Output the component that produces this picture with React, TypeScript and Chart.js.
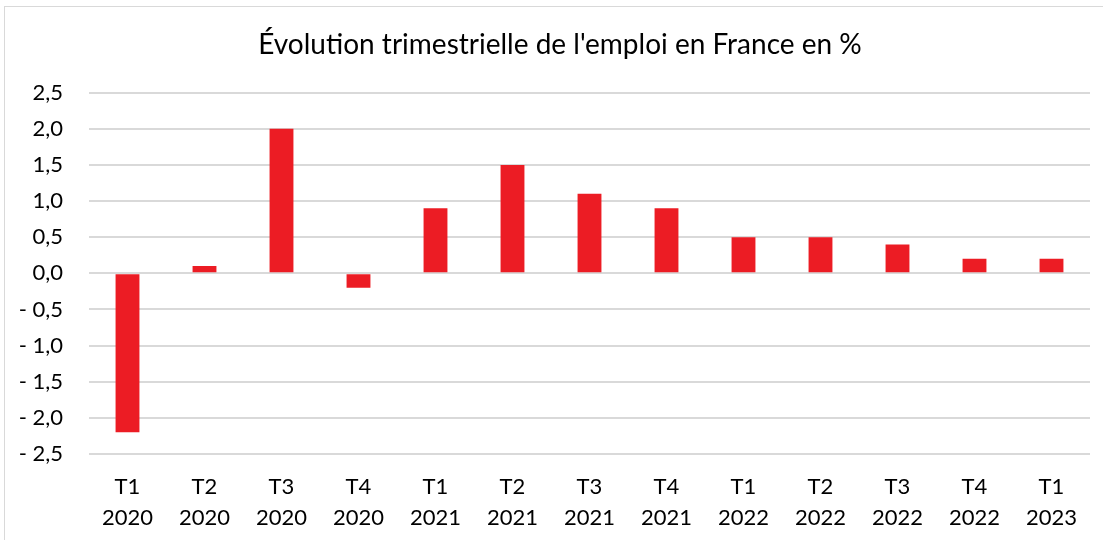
import React, { useEffect, useRef } from "react";
import { Chart, registerables } from "chart.js";

Chart.register(...registerables);

const quarters = ["T1", "T2", "T3", "T4", "T1", "T2", "T3", "T4", "T1", "T2", "T3", "T4", "T1"];
const years = ["2020", "2020", "2020", "2020", "2021", "2021", "2021", "2021", "2022", "2022", "2022", "2022", "2023"];
const emploi = [-2.2, 0.1, 2.0, -0.2, 0.9, 1.5, 1.1, 0.9, 0.5, 0.5, 0.4, 0.2, 0.2];
const titleText = "Évolution trimestrielle de l'emploi en France en %";
const yMin = -2.5;
const yMax = 2.5;
const yStep = 0.5;

const FONT = "Lato, 'Open Sans', sans-serif";

const titleShift = {
  id: "titleShift",
  afterLayout(c: any) {
    const t = c.titleBlock;
    if (t) {
      t.left = 30;
      t.width = t.right - t.left;
    }
  },
};

export default function App() {
  const ref = useRef<HTMLCanvasElement | null>(null);
  useEffect(() => {
    document.body.style.margin = "0";
    const canvas = ref.current!;
    const chart = new Chart(canvas, {
      type: "bar",
      data: {
        labels: quarters.map((q, i) => [q, years[i]]),
        datasets: [
          {
            data: emploi,
            backgroundColor: "#EC1C24",
            barPercentage: 0.31,
            categoryPercentage: 1,
          },
        ],
      },
      plugins: [titleShift],
      options: {
        animation: false,
        responsive: false,
        maintainAspectRatio: false,
        layout: { padding: { left: 0, right: 13, top: 0, bottom: 0 } },
        plugins: {
          legend: { display: false },
          tooltip: { enabled: false },
          title: {
            display: true,
            text: titleText,
            color: "#000",
            font: { family: FONT, size: 28, weight: "normal" },
            padding: { top: 28, bottom: 31 },
          },
        },
        scales: {
          x: {
            grid: { display: false },
            border: { display: false },
            afterFit: (s: any) => {
              s.height = 86;
            },
            ticks: {
              color: "#000",
              font: { family: FONT, size: 22, lineHeight: 1.4 },
              maxRotation: 0,
              autoSkip: false,
              padding: 10,
            },
          },
          y: {
            min: yMin,
            max: yMax,
            border: { display: false },
            grid: { color: "#d9d9d9", lineWidth: 2, drawTicks: false },
            afterFit: (s: any) => {
              s.width = 89;
            },
            ticks: {
              stepSize: yStep,
              color: "#000",
              font: { family: FONT, size: 22 },
              padding: 26,
              callback: (v: any) => {
                const n = Number(v);
                const s = Math.abs(n).toFixed(1).replace(".", ",");
                return n < -1e-9 ? "- " + s : s;
              },
            },
          },
        },
      },
    });
    return () => chart.destroy();
  }, []);
  return (
    <div style={{ position: "relative", width: 1103, height: 540, background: "#fff", overflow: "hidden" }}>
      <canvas ref={ref} width={1103} height={540} style={{ position: "absolute", left: 0, top: 0 }} />
      <div
        style={{
          position: "absolute",
          left: 4,
          top: 6,
          width: 1120,
          height: 560,
          border: "1.5px solid #d9d9d9",
          pointerEvents: "none",
        }}
      />
    </div>
  );
}
